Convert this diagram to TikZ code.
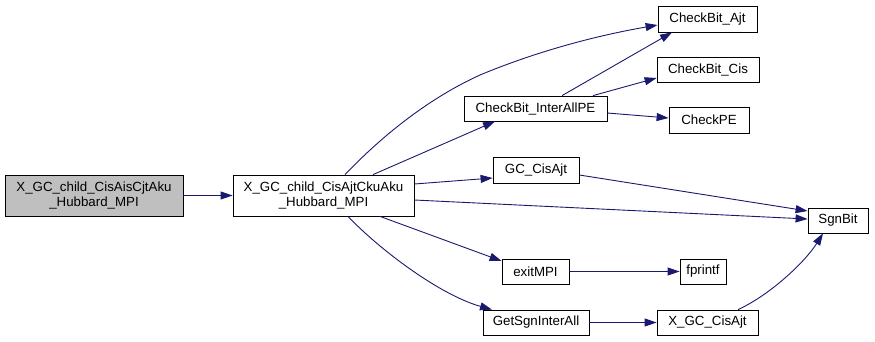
\documentclass[tikz,border=0pt]{standalone}
\usepackage{fontspec}
\setmainfont{Liberation Sans}
\usetikzlibrary{arrows.meta}
\definecolor{edgeblue}{HTML}{191970}
\definecolor{rootgray}{HTML}{BFBFBF}
\begin{document}
\begin{tikzpicture}[x=1pt,y=-1pt,
  fn/.style={draw=black, line width=0.8pt, fill=white, inner sep=0pt,
    align=center, font=\fontsize{13.3}{14.5}\selectfont},
  call/.style={draw=edgeblue, line width=0.9pt,
    -{Triangle[length=12pt,width=8pt,fill=edgeblue]}}]
\useasboundingbox (0,0) rectangle (875,341);

% functions
\node[fn, fill=rootgray, minimum width=178pt, minimum height=41pt] (root) at (94,195.5)
  {X\_GC\_child\_CisAisCjtAku\\\_Hubbard\_MPI};
\node[fn, minimum width=181pt, minimum height=41pt] (caller) at (323.5,195.5)
  {X\_GC\_child\_CisAjtCkuAku\\\_Hubbard\_MPI};
\node[fn, minimum width=143pt, minimum height=25pt] (cbi) at (535.5,108.5) {CheckBit\_InterAllPE};
\node[fn, minimum width=99pt, minimum height=26pt] (cba) at (707.5,19) {CheckBit\_Ajt};
\node[fn, minimum width=102pt, minimum height=25pt] (cbc) at (708,69.5) {CheckBit\_Cis};
\node[fn, minimum width=80pt, minimum height=26pt] (cpe) at (709,120) {CheckPE};
\node[fn, minimum width=86pt, minimum height=26pt] (gca) at (536,170) {GC\_CisAjt};
\node[fn, minimum width=60pt, minimum height=25pt] (sgn) at (838,220.5) {SgnBit};
\node[fn, minimum width=67pt, minimum height=25pt] (ex) at (535.5,271.5) {exitMPI};
\node[fn, minimum width=46pt, minimum height=25pt] (fp) at (703,271.5) {fprintf};
\node[fn, minimum width=106pt, minimum height=25pt] (gsi) at (536,322.5) {GetSgnInterAll};
\node[fn, minimum width=101pt, minimum height=25pt] (xgc) at (707.5,322.5) {X\_GC\_CisAjt};

% calls
\draw[call] (root.east) -- (caller.west);
\draw[call] ([xshift=49.5pt]caller.north) -- ([xshift=-40.5pt]cbi.south);
\draw[call] ([xshift=21.5pt]caller.north) .. controls (378,140) and (425,100) .. (480,75)
  .. controls (540,50) and (600,35) .. ([yshift=-6pt]cba.west);
\draw[call] ([xshift=26.5pt]cbi.north) -- ([xshift=-35.5pt]cba.south);
\draw[call] ([xshift=57.5pt]cbi.north) -- ([yshift=-8.5pt]cbc.west);
\draw[call] ([yshift=-4.5pt]cbi.east) -- ([yshift=2pt]cpe.west);
\draw[call] ([yshift=11.5pt]caller.east) -- ([yshift=-8pt]gca.west);
\draw[call] ([yshift=-4.5pt]caller.east) -- ([yshift=1.5pt]sgn.west);
\draw[call] ([yshift=-5pt]gca.east) -- ([yshift=9.5pt]sgn.west);
\draw[call] ([xshift=56.5pt]caller.south) -- ([yshift=10.5pt]ex.west);
\draw[call] ([xshift=24.5pt]caller.south) .. controls (380,250) and (440,295) .. ([xshift=-44pt]gsi.north);
\draw[call] (ex.east) -- (fp.west);
\draw[call] (gsi.east) -- (xgc.west);
\draw[call] ([xshift=30.5pt]xgc.north) .. controls (770,295) and (805,262) .. ([xshift=-15pt]sgn.south);
\end{tikzpicture}
\end{document}
